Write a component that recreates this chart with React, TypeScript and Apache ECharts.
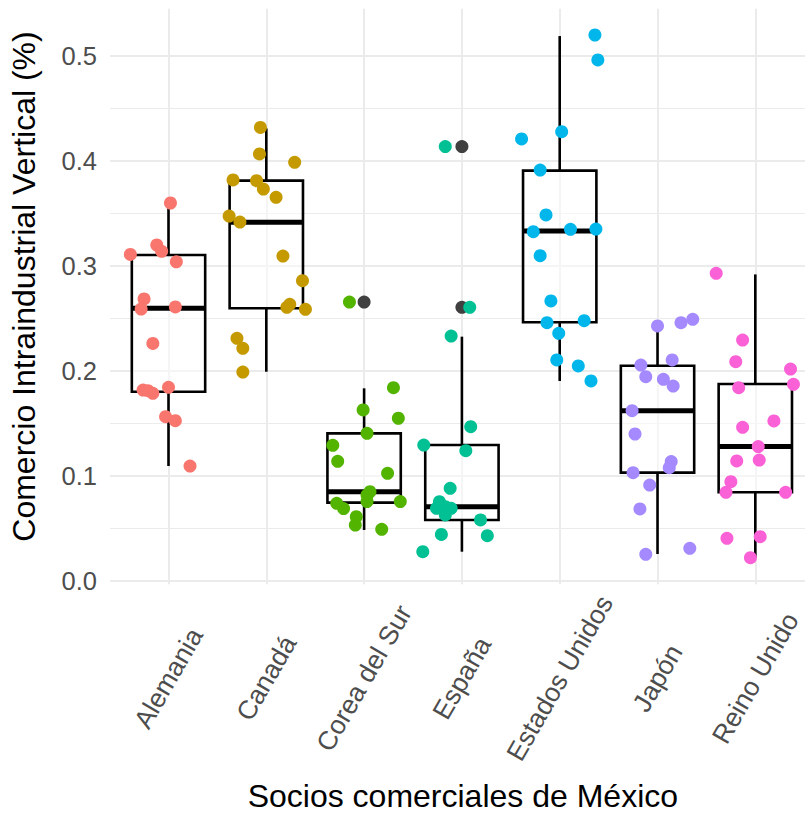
import React, { useEffect, useRef } from "react";
import * as echarts from "echarts";

const categories = ["Alemania", "Canadá", "Corea del Sur", "España", "Estados Unidos", "Japón", "Reino Unido"];
const colors = ["#F8766D", "#C49A00", "#53B400", "#00C094", "#00B6EB", "#A58AFF", "#FB61D7"];

// boxplot statistics
const boxMin = [0.1095, 0.1993, 0.0486, 0.0279, 0.1905, 0.0257, 0.0222];
const boxQ1 = [0.1803, 0.2597, 0.0746, 0.0581, 0.2464, 0.1032, 0.0845];
const boxMedian = [0.2597, 0.3416, 0.085, 0.0708, 0.3333, 0.1622, 0.128];
const boxQ3 = [0.3105, 0.3813, 0.1406, 0.1295, 0.3908, 0.205, 0.1876];
const boxMax = [0.36, 0.431, 0.1835, 0.2327, 0.519, 0.2429, 0.292];

// outliers (category index 1..7, value)
const outlierCategory = [3, 4, 4];
const outlierValue = [0.2657, 0.4137, 0.2606];

// jittered observations: values and horizontal jitter (category units)
const valAlemania = [0.36, 0.32, 0.314, 0.311, 0.304, 0.2686, 0.259, 0.261, 0.2263, 0.1819, 0.1812, 0.1787, 0.1845, 0.1565, 0.1527, 0.1095];
const jitAlemania = [0.02, -0.12, -0.07, -0.39, 0.08, -0.25, -0.28, 0.07, -0.16, -0.26, -0.21, -0.16, 0.0, -0.03, 0.07, 0.22];
const valCanada = [0.432, 0.4067, 0.3987, 0.382, 0.3813, 0.3733, 0.3654, 0.3476, 0.3419, 0.3095, 0.286, 0.2635, 0.2606, 0.2587, 0.2311, 0.2216, 0.199];
const jitCanada = [-0.06, -0.07, 0.29, -0.34, -0.1, -0.03, 0.1, -0.38, -0.27, 0.17, 0.37, 0.24, 0.21, 0.4, -0.3, -0.24, -0.24];
const valCorea = [0.2657, 0.1841, 0.1629, 0.155, 0.1406, 0.1292, 0.114, 0.1026, 0.085, 0.0819, 0.0756, 0.0756, 0.074, 0.069, 0.0613, 0.0533, 0.0492];
const jitCorea = [-0.15, 0.3, -0.01, 0.35, 0.03, -0.32, -0.27, 0.24, 0.06, 0.03, 0.03, 0.37, -0.28, -0.21, -0.08, -0.09, 0.18];
const valEspana = [0.4137, 0.2606, 0.2333, 0.147, 0.1295, 0.1241, 0.0883, 0.0755, 0.0708, 0.0692, 0.0692, 0.0629, 0.0581, 0.0444, 0.0432, 0.0279];
const jitEspana = [-0.17, 0.08, -0.11, 0.09, -0.39, 0.04, -0.12, -0.23, -0.17, -0.11, -0.26, -0.17, 0.19, -0.21, 0.26, -0.4];
const valEEUU = [0.52, 0.4962, 0.4279, 0.421, 0.3914, 0.3486, 0.3327, 0.3349, 0.3352, 0.3098, 0.2667, 0.246, 0.2479, 0.2359, 0.2105, 0.2048, 0.1905];
const jitEEUU = [0.36, 0.39, 0.02, -0.39, -0.2, -0.14, -0.27, 0.11, 0.37, -0.2, -0.09, -0.13, 0.25, -0.01, -0.03, 0.19, 0.32];
const valJapon = [0.2429, 0.246, 0.2492, 0.2105, 0.2057, 0.1946, 0.1921, 0.1857, 0.1622, 0.14, 0.1137, 0.1079, 0.1032, 0.0914, 0.0686, 0.0254, 0.0311];
const jitJapon = [0.0, 0.24, 0.36, 0.15, -0.17, -0.12, 0.06, 0.16, -0.26, -0.23, 0.14, 0.12, -0.25, -0.08, -0.18, -0.12, 0.33];
const valReino = [0.293, 0.2295, 0.2089, 0.2019, 0.1873, 0.1841, 0.1524, 0.1464, 0.128, 0.1152, 0.1143, 0.0946, 0.0845, 0.0845, 0.0406, 0.0422, 0.0222];
const jitReino = [-0.4, -0.13, -0.2, 0.36, 0.39, -0.17, 0.19, -0.13, 0.03, 0.04, -0.19, -0.25, -0.3, 0.31, -0.29, 0.05, -0.05];

const pointValues = [valAlemania, valCanada, valCorea, valEspana, valEEUU, valJapon, valReino];
const pointJitter = [jitAlemania, jitCanada, jitCorea, jitEspana, jitEEUU, jitJapon, jitReino];

const yTicks = [0, 0.1, 0.2, 0.3, 0.4, 0.5];

const FONT = "'Liberation Sans', Arial, Helvetica, sans-serif";

export default function App() {
  const ref = useRef<HTMLDivElement>(null);
  useEffect(() => {
    if (!ref.current) return;
    const chart = echarts.init(ref.current, undefined, { renderer: "svg" });

    const boxData = categories.map((_, i) => [i + 1, boxMin[i], boxQ1[i], boxMedian[i], boxQ3[i], boxMax[i]]);

    const scatterSeries = categories.map((name, ci) => ({
      type: "scatter",
      name,
      xAxisIndex: 0,
      yAxisIndex: 0,
      symbol: "circle",
      symbolSize: 13,
      z: 4,
      itemStyle: { color: colors[ci], opacity: 1 },
      data: pointValues[ci].map((v, i) => [ci + 1 + pointJitter[ci][i], v]),
    }));

    const option: any = {
      animation: false,
      backgroundColor: "#ffffff",
      grid: [
        { left: 70.7, width: 743.3, top: 8.75, bottom: 233.85, outerBoundsMode: "none", containLabel: false },
        { left: 110, right: 0, top: 56, bottom: 237, outerBoundsMode: "none", containLabel: false },
      ],
      xAxis: [
        {
          type: "value",
          gridIndex: 0,
          min: 0,
          max: 7.6,
          interval: 1,
          axisLine: { show: false },
          axisTick: { show: false },
          splitLine: { show: true, showMinLine: false, showMaxLine: false, lineStyle: { color: "#EBEBEB", width: 2 } },
          axisLabel: {
            show: true,
            rotate: 60,
            align: "center",
            verticalAlign: "middle",
            margin: 94,
            color: "#4D4D4D",
            fontSize: 26.5,
            fontFamily: FONT,
            showMinLabel: true,
            showMaxLabel: true,
            formatter: (v: number) => {
              const k = Math.round(v);
              return Math.abs(v - k) < 1e-6 && k >= 1 && k <= categories.length ? categories[k - 1] : "";
            },
          },
          name: "Socios comerciales de México",
          nameLocation: "middle",
          nameGap: 196,
          nameTextStyle: { color: "#000000", fontSize: 32, fontFamily: FONT, padding: [0, 0, 0, 41] },
        },
        {
          type: "value",
          gridIndex: 1,
          min: 0,
          max: 1,
          show: false,
          splitLine: { show: false },
        },
      ],
      yAxis: [
        {
          type: "value",
          gridIndex: 0,
          min: -0.003,
          max: 0.545,
          show: false,
          splitLine: { show: false },
        },
        {
          type: "value",
          gridIndex: 1,
          min: 0,
          max: 0.5,
          interval: 0.1,
          axisLine: { show: false },
          axisTick: { show: false },
          splitLine: { show: true, lineStyle: { color: "#EBEBEB", width: 2 } },
          minorTick: { show: false, splitNumber: 2 },
          minorSplitLine: { show: true, lineStyle: { color: "#EBEBEB", width: 1.2 } },
          axisLabel: {
            color: "#4D4D4D",
            fontSize: 25.5,
            fontFamily: FONT,
            margin: 13,
            formatter: (v: number) => (yTicks.some((t) => Math.abs(t - v) < 1e-9) ? v.toFixed(1) : ""),
          },
          name: "Comercio Intraindustrial Vertical (%)",
          nameLocation: "middle",
          nameGap: 70,
          nameTextStyle: { color: "#000000", fontSize: 32, fontFamily: FONT, padding: [0, 0, 0, 64] },
        },
      ],
      series: [
        {
          type: "custom",
          xAxisIndex: 0,
          yAxisIndex: 0,
          z: 3,
          data: boxData,
          renderItem: (params: any, api: any) => {
            const x = api.value(0);
            const pMin = api.coord([x, api.value(1)]);
            const pQ1 = api.coord([x, api.value(2)]);
            const pMed = api.coord([x, api.value(3)]);
            const pQ3 = api.coord([x, api.value(4)]);
            const pMax = api.coord([x, api.value(5)]);
            const w = api.size([0.75, 0])[0];
            const l = pMed[0] - w / 2;
            const r = pMed[0] + w / 2;
            const lineStyle = { stroke: "#000000", lineWidth: 2.6 };
            return {
              type: "group",
              children: [
                { type: "line", shape: { x1: pMin[0], y1: pMin[1], x2: pQ1[0], y2: pQ1[1] }, style: lineStyle },
                { type: "line", shape: { x1: pQ3[0], y1: pQ3[1], x2: pMax[0], y2: pMax[1] }, style: lineStyle },
                {
                  type: "rect",
                  shape: { x: l, y: pQ3[1], width: w, height: pQ1[1] - pQ3[1] },
                  style: { fill: "rgba(255,255,255,0.5)", stroke: "#000000", lineWidth: 2.6 },
                },
                { type: "line", shape: { x1: l, y1: pMed[1], x2: r, y2: pMed[1] }, style: { stroke: "#000000", lineWidth: 5 } },
              ],
            };
          },
        },
        {
          type: "scatter",
          name: "outliers",
          xAxisIndex: 0,
          yAxisIndex: 0,
          symbol: "circle",
          symbolSize: 13,
          z: 3.5,
          itemStyle: { color: "#404040", opacity: 1 },
          data: outlierCategory.map((c, i) => [c, outlierValue[i]]),
        },
        ...scatterSeries,
      ],
    };

    chart.setOption(option);
    return () => chart.dispose();
  }, []);

  return <div ref={ref} style={{ position: "fixed", left: 0, top: 0, width: 805, height: 818, background: "#fff" }} />;
}
